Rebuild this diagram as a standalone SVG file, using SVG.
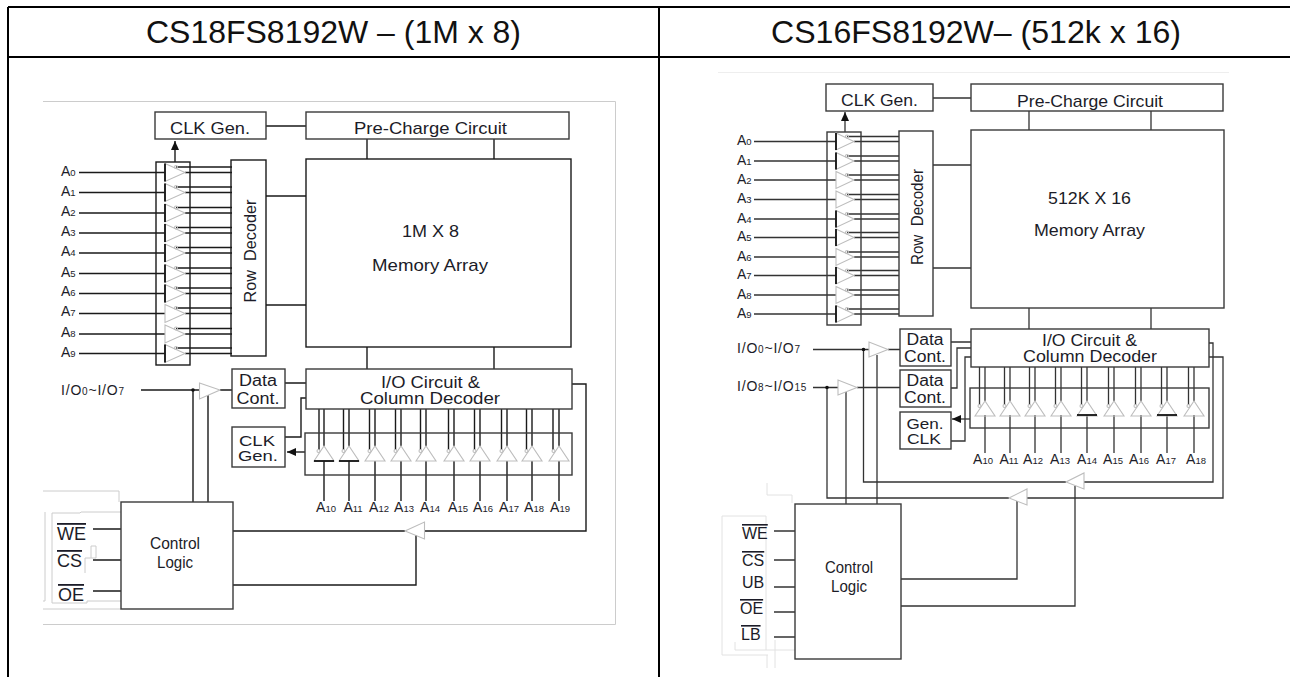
<svg xmlns="http://www.w3.org/2000/svg" width="1290" height="677" viewBox="0 0 1290 677">
<style>
text{font-family:"Liberation Sans",Arial,sans-serif;fill:#1c1c28;white-space:pre}
.h{font-size:31.800px;fill:#111}
.b{font-size:17px}
.a{font-size:14px}
.s{font-size:9.500px}
.io{font-size:14px;letter-spacing:.8px}
.io .s{font-size:10px}
.c{font-size:18px}
.d{font-size:16px}
.e{font-size:14.500px}
.ov{text-decoration:overline}
.m{text-anchor:middle}
.w{stroke:#1a1a1a;stroke-width:1.400;fill:#fff}
.n{stroke:#1a1a1a;stroke-width:1.400;fill:none}
.r{stroke:#3a3a3a;stroke-width:1.400;fill:#fff}
.rn{stroke:#3a3a3a;stroke-width:1.400;fill:none}
.l{stroke:#1a1a1a;stroke-width:1.400;fill:none}
.l2{stroke:#333;stroke-width:1.300;fill:none}
.tri{stroke:#bdbdbd;stroke-width:1.100;fill:none}
.bk{stroke:#111;stroke-width:1.800;fill:none}
.fr{stroke:#ccc;stroke-width:1;fill:none}
.fr2{stroke:#eee;stroke-width:1;fill:none}
.fr3{stroke:#e2e2e2;stroke-width:1;fill:none}
.tb{stroke:#000;stroke-width:2;fill:none}
</style>
<defs>
<g id="bl"><path class="tri" d="M0-9L20 0L0 9Z"/><circle class="tri" cx="11" cy="-5.500" r="1.500"/></g>
<path id="blk" class="bk" d="M0-9V9"/>
<g id="br"><path class="tri" d="M0-8.500L18 0L0 8.500Z"/><circle class="tri" cx="11" cy="-5" r="1.500"/></g>
<path id="brk" class="bk" d="M0-8.500V8.500"/>
<g id="tu"><path class="tri" d="M-10 15L0 0L10 15Z"/><circle class="tri" cx="-5.500" cy="5" r="1.500"/></g>
<path id="tuk" class="bk" d="M-10 15H10"/>
<marker id="ah" markerUnits="userSpaceOnUse" markerWidth="10" markerHeight="10" refX="9" refY="4" orient="auto"><path d="M0 0L9 4L0 8Z" fill="#111"/></marker>
</defs>

<g id="table">
<path class="tb" d="M8 7H1290M8 57H1290M8 7V677M659 7V677"/>
<text class="h" x="146" y="43" textLength="375" lengthAdjust="spacingAndGlyphs">CS18FS8192W – (1M x 8)</text>
<text class="h" x="771" y="43" textLength="410" lengthAdjust="spacingAndGlyphs">CS16FS8192W– (512k x 16)</text>
</g>

<g id="frames">
<path class="fr" d="M43 101.500H615.500V624.500H43"/>
<path class="fr" d="M43 491H119V502M52 513H80L81 512H121M52 513V603H87V601H121M45 512V601H43M43 609H121M85 573V558H91V546H96V558H91"/>
<path class="fr2" d="M718 72.500H1229"/>
<path class="fr3" d="M767 483V495H792V503M722 516H766V650M722 516V655H768M735 642V650H795M767 655V668M775 640V668"/>
</g>

<g id="connectors-left">
<path class="l" d="M266 126H306M367 139V159M494 139V159M266 196H308M266 305H308M367 347V369M494 347V369"/>
<path class="l" d="M79 172.500H165M185 172.500H232M176 167H232M79 192.500H165M185 192.500H232M176 187H232M79 213H165M185 213H232M176 207.500H232M79 233H165M185 233H232M176 227.500H232M79 253H165M185 253H232M176 247.500H232M79 273.500H165M185 273.500H232M176 268H232M79 293.500H165M185 293.500H232M176 288H232M79 313.500H165M185 313.500H232M176 308H232M79 334H165M185 334H232M176 328.500H232M79 353.500H165M185 353.500H232M176 348H232"/>
<path class="l" d="M175 162V141" marker-end="url(#ah)"/>
<path class="l" d="M141 390H199M220 390H232M193 390V502M208 395V502M285 383H306M285 437H301V398H306"/>
<path class="l" d="M305 452H287" marker-end="url(#ah)"/>
<path class="l" d="M319 409V450M324 409V446M343.500 409V450M349 409V446M369.500 409V450M375 409V446M395.500 409V450M401 409V446M420.500 409V450M426 409V446M448.500 409V450M454 409V446M474.500 409V450M480 409V446M501.500 409V450M507 409V446M526.500 409V450M532 409V446M553 409V450M559 409V446"/>
<path class="l" d="M324 461V501M349 461V501M375 461V501M401 461V501M426 461V501M454 461V501M480 461V501M507 461V501M532 461V501M559 461V501"/>
<path class="l" d="M572 384H586V531H424M405 531H233M233 585H416V535"/>
<path class="l" d="M93 529H121M93 560H121M93 591H121"/>
<circle cx="193" cy="390" r="1.800" fill="#111"/>
</g>

<g id="connectors-right">
<path class="l2" d="M933 98H971M1029 111V130M1151 111V130M933 165H973M933 268H973M1029 308V329M1151 308V329"/>
<path class="l2" d="M754 141.500H836M854 141.500H899M847 136.500H899M754 161H836M854 161H899M847 156H899M754 180H836M854 180H899M847 175H899M754 199.500H836M854 199.500H899M847 194.500H899M754 219H836M854 219H899M847 214H899M754 237.500H836M854 237.500H899M847 232.500H899M754 257H836M854 257H899M847 252H899M754 275.500H836M854 275.500H899M847 270.500H899M754 295H836M854 295H899M847 290H899M754 314H836M854 314H899M847 309H899"/>
<path class="l2" d="M845 132V112" marker-end="url(#ah)"/>
<path class="l2" d="M951 342H971M951 388H957V348H971M951 441H965V357H971"/>
<path class="l2" d="M970 419H952" marker-end="url(#ah)"/>
<path class="l2" d="M979.500 367V405M985 367V401M1004.500 367V405M1010 367V401M1029.500 367V405M1035 367V401M1055.500 367V405M1061 367V401M1081.500 367V405M1087 367V401M1108.500 367V405M1114 367V401M1135.500 367V405M1141 367V401M1161.500 367V405M1167 367V401M1188.500 367V405M1194 367V401"/>
<path class="l2" d="M985 415V453M1010 415V453M1035 415V453M1061 415V453M1087 415V453M1114 415V453M1141 415V453M1167 415V453M1194 415V453"/>
<path class="l2" d="M1209 343H1213V482H1084M1066 482H863.500V350M1209 357H1223V498H1027M1009 498H827V388"/>
<path class="l2" d="M813 349.500H869M888 349.500H900M813 387.500H838M857 387.500H900M846 392V504M877 355V504"/>
<path class="l2" d="M901 579H1017V501M901 606H1075V486M774 531H795M774 560H795M774 587H795M774 612H795M774 637H795"/>
<circle cx="863.500" cy="349.500" r="1.800" fill="#111"/>
<circle cx="827" cy="387.500" r="1.800" fill="#111"/>
</g>

<g id="left-clk-gen"><rect class="r" x="155" y="112" width="111" height="27"/><text class="b" x="170" y="134" textLength="80" lengthAdjust="spacingAndGlyphs">CLK Gen.</text></g>
<g id="left-precharge"><rect class="r" x="306" y="112" width="263" height="27"/><text class="b" x="354" y="134" textLength="153" lengthAdjust="spacingAndGlyphs">Pre-Charge Circuit</text></g>
<g id="left-memory"><rect class="w" x="306" y="159" width="265" height="188"/><text class="b" x="402" y="237" textLength="57" lengthAdjust="spacingAndGlyphs">1M X 8</text><text class="b" x="372" y="271" textLength="116" lengthAdjust="spacingAndGlyphs">Memory Array</text></g>
<g id="left-row-decoder"><rect class="n" x="231" y="160" width="35" height="196"/><text class="b m" transform="translate(256 251) rotate(-90)" textLength="103" lengthAdjust="spacingAndGlyphs">Row  Decoder</text></g>
<g id="left-address-buffers">
<rect class="n" x="156" y="162" width="34" height="203"/>
<use href="#bl" x="165" y="172.500"/><use href="#blk" x="165" y="172.500"/>
<use href="#bl" x="165" y="192.500"/><use href="#blk" x="165" y="192.500"/>
<use href="#bl" x="165" y="213"/><use href="#blk" x="165" y="213"/>
<use href="#bl" x="165" y="233"/><use href="#blk" x="165" y="233"/>
<use href="#bl" x="165" y="253"/><use href="#blk" x="165" y="253"/>
<use href="#bl" x="165" y="273.500"/><use href="#blk" x="165" y="273.500"/>
<use href="#bl" x="165" y="293.500"/><use href="#blk" x="165" y="293.500"/>
<use href="#bl" x="165" y="313.500"/><use href="#bl" x="165" y="334"/><use href="#bl" x="165" y="353.500"/><use href="#blk" x="165" y="353.500"/>
</g>
<g id="left-address-labels">
<text class="a" x="61" y="176">A<tspan class="s">0</tspan></text>
<text class="a" x="61" y="196">A<tspan class="s">1</tspan></text>
<text class="a" x="61" y="216">A<tspan class="s">2</tspan></text>
<text class="a" x="61" y="236">A<tspan class="s">3</tspan></text>
<text class="a" x="61" y="256">A<tspan class="s">4</tspan></text>
<text class="a" x="61" y="276.500">A<tspan class="s">5</tspan></text>
<text class="a" x="61" y="296">A<tspan class="s">6</tspan></text>
<text class="a" x="61" y="316">A<tspan class="s">7</tspan></text>
<text class="a" x="61" y="337">A<tspan class="s">8</tspan></text>
<text class="a" x="61" y="356.500">A<tspan class="s">9</tspan></text>
</g>
<g id="left-data-cont"><rect class="r" x="232" y="369" width="53" height="39"/><text class="d m" x="258" y="386" textLength="38" lengthAdjust="spacingAndGlyphs">Data</text><text class="d m" x="258" y="404" textLength="43" lengthAdjust="spacingAndGlyphs">Cont.</text></g>
<g id="left-clk-gen-2"><rect class="r" x="232" y="427" width="53" height="40"/><text class="e m" x="257" y="445.500" textLength="36" lengthAdjust="spacingAndGlyphs">CLK</text><text class="e m" x="258" y="460.500" textLength="40" lengthAdjust="spacingAndGlyphs">Gen.</text></g>
<g id="left-io-circuit"><rect class="r" x="306" y="369" width="266" height="40"/><text class="d" x="381" y="388" textLength="99" lengthAdjust="spacingAndGlyphs">I/O Circuit &amp;</text><text class="d" x="360" y="404" textLength="140" lengthAdjust="spacingAndGlyphs">Column Decoder</text></g>
<g id="left-column-buffers">
<rect class="rn" x="305" y="433" width="267" height="42"/>
<use href="#tu" x="324" y="446"/><use href="#tuk" x="324" y="446"/>
<use href="#tu" x="349" y="446"/><use href="#tuk" x="349" y="446"/>
<use href="#tu" x="375" y="446"/><use href="#tu" x="401" y="446"/><use href="#tu" x="426" y="446"/><use href="#tu" x="454" y="446"/><use href="#tu" x="480" y="446"/><use href="#tu" x="507" y="446"/><use href="#tu" x="532" y="446"/><use href="#tu" x="559" y="446"/>
</g>
<g id="left-column-labels">
<text class="a m" x="326" y="512">A<tspan class="s">10</tspan></text>
<text class="a m" x="353" y="512">A<tspan class="s">11</tspan></text>
<text class="a m" x="379" y="512">A<tspan class="s">12</tspan></text>
<text class="a m" x="404" y="512">A<tspan class="s">13</tspan></text>
<text class="a m" x="430" y="512">A<tspan class="s">14</tspan></text>
<text class="a m" x="458" y="512">A<tspan class="s">15</tspan></text>
<text class="a m" x="483" y="512">A<tspan class="s">16</tspan></text>
<text class="a m" x="509" y="512">A<tspan class="s">17</tspan></text>
<text class="a m" x="534" y="512">A<tspan class="s">18</tspan></text>
<text class="a m" x="560" y="512">A<tspan class="s">19</tspan></text>
</g>
<g id="left-io-buffer"><path class="tri" d="M199.500 383V399L220 390Z"/><text class="io" x="61" y="395">I/O<tspan class="s">0</tspan>~I/O<tspan class="s">7</tspan></text></g>
<g id="left-oe-buffer"><path class="tri" d="M424.500 522V539L405 531Z"/></g>
<g id="left-control"><rect class="r" x="121" y="502" width="112" height="107"/><text class="d" x="150" y="549" textLength="50" lengthAdjust="spacingAndGlyphs">Control</text><text class="d" x="157" y="568" textLength="36" lengthAdjust="spacingAndGlyphs">Logic</text></g>
<g id="left-control-labels">
<text class="c ov" x="57" y="540">WE</text>
<text class="c ov" x="57" y="567">CS</text>
<text class="c ov" x="58" y="601">OE</text>
</g>

<g id="right-clk-gen"><rect class="r" x="826" y="84" width="107" height="27"/><text class="b" x="841" y="106" textLength="77" lengthAdjust="spacingAndGlyphs">CLK Gen.</text></g>
<g id="right-precharge"><rect class="r" x="971" y="84" width="252" height="27"/><text class="b" x="1017" y="107" textLength="146" lengthAdjust="spacingAndGlyphs">Pre-Charge Circuit</text></g>
<g id="right-memory"><rect class="r" x="971" y="130" width="253" height="178"/><text class="b" x="1048" y="204" textLength="83" lengthAdjust="spacingAndGlyphs">512K X 16</text><text class="b" x="1034" y="236" textLength="111" lengthAdjust="spacingAndGlyphs">Memory Array</text></g>
<g id="right-row-decoder"><rect class="rn" x="899" y="131" width="34" height="185"/><text class="b m" transform="translate(923 217) rotate(-90)" textLength="96" lengthAdjust="spacingAndGlyphs">Row  Decoder</text></g>
<g id="right-address-buffers">
<rect class="rn" x="827" y="132" width="34" height="193"/>
<use href="#br" x="836" y="141.500"/><use href="#brk" x="836" y="141.500"/>
<use href="#br" x="836" y="161"/><use href="#brk" x="836" y="161"/>
<use href="#br" x="836" y="180"/><use href="#br" x="836" y="199.500"/>
<use href="#br" x="836" y="219"/><use href="#brk" x="836" y="219"/>
<use href="#br" x="836" y="237.500"/><use href="#brk" x="836" y="237.500"/>
<use href="#br" x="836" y="257"/>
<use href="#br" x="836" y="275.500"/><use href="#brk" x="836" y="275.500"/>
<use href="#br" x="836" y="295"/>
<use href="#br" x="836" y="314"/><use href="#brk" x="836" y="314"/>
</g>
<g id="right-address-labels">
<text class="a" x="737" y="145">A<tspan class="s">0</tspan></text>
<text class="a" x="737" y="164.500">A<tspan class="s">1</tspan></text>
<text class="a" x="737" y="183.500">A<tspan class="s">2</tspan></text>
<text class="a" x="737" y="203">A<tspan class="s">3</tspan></text>
<text class="a" x="737" y="222.500">A<tspan class="s">4</tspan></text>
<text class="a" x="737" y="241">A<tspan class="s">5</tspan></text>
<text class="a" x="737" y="260.500">A<tspan class="s">6</tspan></text>
<text class="a" x="737" y="279">A<tspan class="s">7</tspan></text>
<text class="a" x="737" y="298.500">A<tspan class="s">8</tspan></text>
<text class="a" x="737" y="317.500">A<tspan class="s">9</tspan></text>
</g>
<g id="right-data-cont-1"><rect class="r" x="900" y="329" width="51" height="37"/><text class="d m" x="925" y="345" textLength="37" lengthAdjust="spacingAndGlyphs">Data</text><text class="d m" x="925" y="362" textLength="42" lengthAdjust="spacingAndGlyphs">Cont.</text></g>
<g id="right-data-cont-2"><rect class="r" x="900" y="370" width="51" height="37"/><text class="d m" x="925" y="386" textLength="37" lengthAdjust="spacingAndGlyphs">Data</text><text class="d m" x="925" y="403" textLength="42" lengthAdjust="spacingAndGlyphs">Cont.</text></g>
<g id="right-gen-clk"><rect class="r" x="900" y="412" width="51" height="37"/><text class="e m" x="925" y="428.500" textLength="37" lengthAdjust="spacingAndGlyphs">Gen.</text><text class="e m" x="924" y="444" textLength="34" lengthAdjust="spacingAndGlyphs">CLK</text></g>
<g id="right-io-circuit"><rect class="r" x="971" y="329" width="238" height="38"/><text class="d" x="1042" y="346" textLength="95" lengthAdjust="spacingAndGlyphs">I/O Circuit &amp;</text><text class="d" x="1023" y="362" textLength="134" lengthAdjust="spacingAndGlyphs">Column Decoder</text></g>
<g id="right-column-buffers">
<rect class="rn" x="970" y="388" width="239" height="40"/>
<use href="#tu" x="985" y="401"/><use href="#tu" x="1010" y="401"/><use href="#tu" x="1035" y="401"/><use href="#tu" x="1061" y="401"/><use href="#tu" x="1087" y="401"/><use href="#tuk" x="1087" y="400"/><use href="#tu" x="1114" y="401"/><use href="#tu" x="1141" y="401"/><use href="#tu" x="1167" y="401"/><use href="#tuk" x="1167" y="400"/><use href="#tu" x="1194" y="401"/>
</g>
<g id="right-column-labels">
<text class="a m" x="983" y="464">A<tspan class="s">10</tspan></text>
<text class="a m" x="1009" y="464">A<tspan class="s">11</tspan></text>
<text class="a m" x="1033" y="464">A<tspan class="s">12</tspan></text>
<text class="a m" x="1060" y="464">A<tspan class="s">13</tspan></text>
<text class="a m" x="1087" y="464">A<tspan class="s">14</tspan></text>
<text class="a m" x="1113" y="464">A<tspan class="s">15</tspan></text>
<text class="a m" x="1139" y="464">A<tspan class="s">16</tspan></text>
<text class="a m" x="1166" y="464">A<tspan class="s">17</tspan></text>
<text class="a m" x="1196" y="464">A<tspan class="s">18</tspan></text>
</g>
<g id="right-io-buffer-1"><path class="tri" d="M869 342V357L888 349.500Z"/><text class="io" x="737" y="353">I/O<tspan class="s">0</tspan>~I/O<tspan class="s">7</tspan></text></g>
<g id="right-io-buffer-2"><path class="tri" d="M838 380V395L857 387.500Z"/><text class="io" x="737" y="391">I/O<tspan class="s">8</tspan>~I/O<tspan class="s">15</tspan></text></g>
<g id="right-oe-buffer-1"><path class="tri" d="M1084 473V489L1066 482Z"/></g>
<g id="right-oe-buffer-2"><path class="tri" d="M1027 489V505L1009 498Z"/></g>
<g id="right-control"><rect class="r" x="795" y="504" width="106" height="155"/><text class="d" x="825" y="573" textLength="48" lengthAdjust="spacingAndGlyphs">Control</text><text class="d" x="831" y="592" textLength="36" lengthAdjust="spacingAndGlyphs">Logic</text></g>
<g id="right-control-labels">
<text class="d ov" x="742" y="539">WE</text>
<text class="d ov" x="742" y="566">CS</text>
<text class="d" x="742" y="588">UB</text>
<text class="d ov" x="740" y="614">OE</text>
<text class="d ov" x="741" y="640">LB</text>
</g>
</svg>
